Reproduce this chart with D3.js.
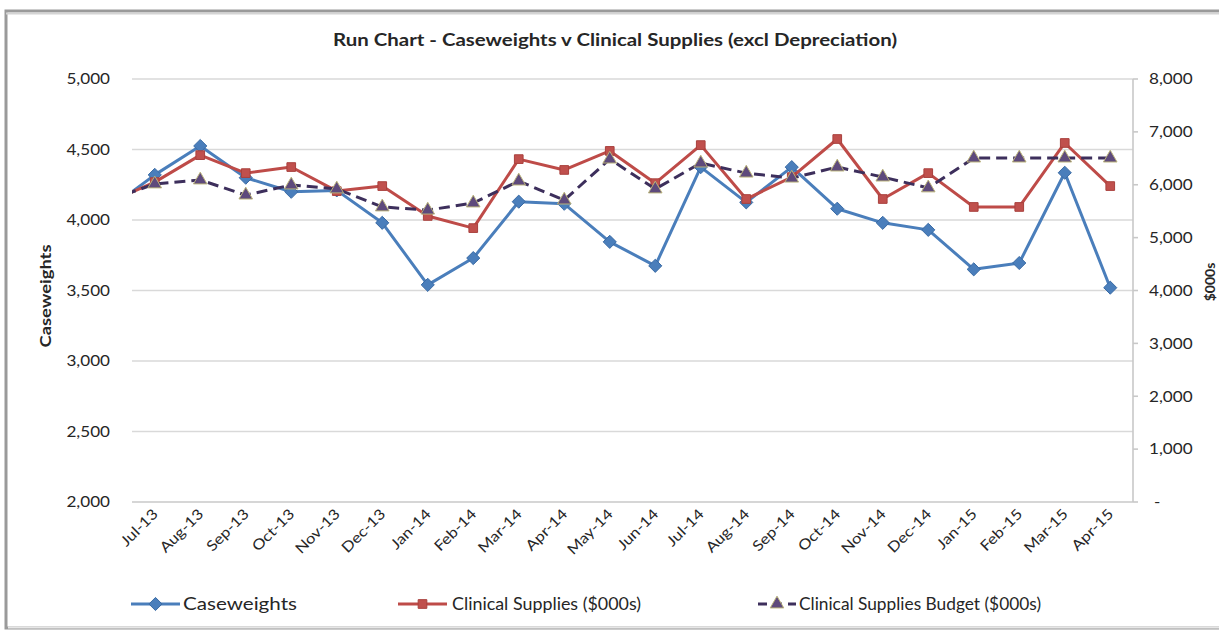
<!DOCTYPE html>
<html>
<head>
<meta charset="utf-8">
<script src="https://cdn.jsdelivr.net/npm/d3@7"></script>
<style>
  html, body { margin: 0; padding: 0; background: #ffffff; }
  svg { display: block; }
  text { font-family: Lato, "Open Sans", "Liberation Sans", sans-serif; fill: #262626; }
</style>
</head>
<body>
<script>
// Monthly run chart: caseweights (left axis) against clinical supplies spend and budget (right axis, $000s)
const months = ["Jul-13","Aug-13","Sep-13","Oct-13","Nov-13","Dec-13","Jan-14","Feb-14","Mar-14","Apr-14","May-14",
                "Jun-14","Jul-14","Aug-14","Sep-14","Oct-14","Nov-14","Dec-14","Jan-15","Feb-15","Mar-15","Apr-15"];
const caseweights = [4320,4525,4300,4200,4210,3980,3540,3730,4130,4115,3845,3675,4375,4125,4375,4080,3980,3930,3650,3695,4335,3520];
const clinicalSupplies = [6050,6560,6220,6335,5880,5975,5410,5180,6485,6280,6640,6030,6750,5730,6145,6865,5730,6220,5580,5580,6790,5975];
const suppliesBudget = [6015,6090,5805,5995,5920,5580,5520,5655,6070,5710,6485,5920,6410,6220,6125,6335,6145,5940,6505,6505,6505,6505];
// Previous month (Jun-13), only its segment into Jul-13 shows inside the plot
const priorMonth = { caseweights: 4080, clinicalSupplies: 5670, suppliesBudget: 5710 };

const leftTicks = [2000,2500,3000,3500,4000,4500,5000];
const rightTicks = [0,1000,2000,3000,4000,5000,6000,7000,8000];

const seriesNames = ["Caseweights","Clinical Supplies ($000s)","Clinical Supplies Budget ($000s)"];
const title = "Run Chart - Caseweights v Clinical Supplies (excl Depreciation)";

const W = 1219, H = 630;
const plot = { left: 132, right: 1133, top: 79, bottom: 502 };

const svg = d3.select("body").append("svg").attr("width", W).attr("height", H);

// widen text along its own direction to give the narrow-face look of the chart's font
function widen(sel, k) {
  sel.each(function () {
    const len = this.getComputedTextLength();
    d3.select(this).attr("textLength", len * k).attr("lengthAdjust", "spacingAndGlyphs");
  });
  return sel;
}
function fitTo(sel, width) {
  return sel.attr("textLength", width).attr("lengthAdjust", "spacingAndGlyphs");
}

// chart frame (its right edge runs past the visible area)
svg.append("rect").attr("x", 6).attr("y", 11).attr("width", W + 20).attr("height", H - 13)
  .attr("fill", "none").attr("stroke", "#9a9a9a").attr("stroke-width", 3);
svg.append("line").attr("x1", 6).attr("x2", W).attr("y1", 13.5).attr("y2", 13.5)
  .attr("stroke", "#d4d4d4").attr("stroke-width", 2);
svg.append("line").attr("x1", 8).attr("x2", W).attr("y1", H - 2.5).attr("y2", H - 2.5)
  .attr("stroke", "#e6e6e6").attr("stroke-width", 2);

const x = d3.scaleBand().domain(months).range([plot.left, plot.right]).paddingInner(0).paddingOuter(0);
const cx = d => x(d) + x.bandwidth() / 2;
const yL = d3.scaleLinear().domain([2000, 5000]).range([plot.bottom, plot.top]);
const yR = d3.scaleLinear().domain([0, 8000]).range([plot.bottom, plot.top]);

// gridlines from the left axis
svg.append("g").selectAll("line").data(leftTicks.filter(t => t > 2000)).join("line")
  .attr("x1", plot.left).attr("x2", plot.right)
  .attr("y1", d => yL(d)).attr("y2", d => yL(d))
  .attr("stroke", "#d9d9d9").attr("stroke-width", 1.6);

// left axis labels
const fmt = d3.format(",");
widen(svg.append("g").selectAll("text").data(leftTicks).join("text")
  .attr("x", 110).attr("y", d => yL(d)).attr("dy", "0.35em")
  .attr("text-anchor", "end").attr("font-size", 15).text(d => fmt(d)), 1.14);

// bottom axis line
svg.append("line").attr("x1", plot.left).attr("x2", plot.right)
  .attr("y1", plot.bottom).attr("y2", plot.bottom)
  .attr("stroke", "#c8c8c8").attr("stroke-width", 1.6);

// right axis line, ticks and labels
const rAxis = svg.append("g");
rAxis.append("line").attr("x1", plot.right).attr("x2", plot.right)
  .attr("y1", plot.top).attr("y2", plot.bottom).attr("stroke", "#c8c8c8").attr("stroke-width", 1.6);
rAxis.selectAll("line.tk").data(rightTicks).join("line").attr("class", "tk")
  .attr("x1", plot.right).attr("x2", plot.right + 5)
  .attr("y1", d => yR(d)).attr("y2", d => yR(d))
  .attr("stroke", "#c8c8c8").attr("stroke-width", 1.6);
widen(rAxis.selectAll("text").data(rightTicks).join("text")
  .attr("x", d => d === 0 ? 1154 : 1149).attr("y", d => yR(d)).attr("dy", "0.35em")
  .attr("font-size", 15).text(d => d === 0 ? "-" : fmt(d)), 1.14);

// x axis labels, rotated
widen(svg.append("g").selectAll("text").data(months).join("text")
  .attr("transform", d => `translate(${cx(d) + 4},${plot.bottom + 13}) rotate(-45)`)
  .attr("text-anchor", "end").attr("font-size", 14.5).text(d => d), 1.15);

// axis titles
fitTo(svg.append("text").attr("transform", `translate(51,296) rotate(-90)`)
  .attr("text-anchor", "middle").attr("font-size", 15.5).attr("font-weight", "bold").text("Caseweights"), 103);
svg.append("text").attr("transform", `translate(1215,282) rotate(-90)`)
  .attr("text-anchor", "middle").attr("font-size", 14).attr("font-weight", "bold").text("$000s");

// title
fitTo(svg.append("text").attr("x", 615).attr("y", 46).attr("text-anchor", "middle")
  .attr("font-size", 16.5).attr("font-weight", "bold").text(title), 564);

// series
const clipId = "plot-clip";
svg.append("clipPath").attr("id", clipId).append("rect")
  .attr("x", plot.left).attr("y", 0).attr("width", plot.right - plot.left).attr("height", H);

const priorX = plot.left - x.bandwidth() / 2;
const series = [
  { name: seriesNames[0], values: caseweights, prior: priorMonth.caseweights, y: yL, color: "#4A7EBB", dash: null, marker: "diamond" },
  { name: seriesNames[1], values: clinicalSupplies, prior: priorMonth.clinicalSupplies, y: yR, color: "#BE4B48", dash: null, marker: "square" },
  { name: seriesNames[2], values: suppliesBudget, prior: priorMonth.suppliesBudget, y: yR, color: "#3D2F5C", dash: "11,6", marker: "triangle" }
];

const markerPath = {
  diamond: d3.symbol().type(d3.symbolDiamond2).size(110),
  square: d3.symbol().type(d3.symbolSquare).size(75),
  triangle: d3.symbol().type(d3.symbolTriangle).size(80)
};
const markerStyle = {
  diamond: { fill: "#4A7EBB", stroke: "#3A6BA5" },
  square: { fill: "#C0504D", stroke: "#A9403D" },
  triangle: { fill: "#5E4A7C", stroke: "#B9B27A" }
};

const line = d3.line().x(d => d[0]).y(d => d[1]);
series.forEach(s => {
  const g = svg.append("g");
  const pts = [[priorX, s.y(s.prior)]].concat(s.values.map((v, i) => [cx(months[i]), s.y(v)]));
  g.append("path").attr("d", line(pts)).attr("clip-path", `url(#${clipId})`)
    .attr("fill", "none").attr("stroke", s.color).attr("stroke-width", 3)
    .attr("stroke-dasharray", s.dash).attr("stroke-linejoin", "round");
  g.selectAll("path.mk").data(s.values).join("path").attr("class", "mk")
    .attr("transform", (v, i) => `translate(${cx(months[i])},${s.y(v)})`)
    .attr("d", markerPath[s.marker])
    .attr("fill", markerStyle[s.marker].fill).attr("stroke", markerStyle[s.marker].stroke).attr("stroke-width", 1);
});

// legend
const legendY = 604;
const legendItems = [
  { s: series[0], x0: 131, tx: 183, w: 114 },
  { s: series[1], x0: 398, tx: 452, w: 189 },
  { s: series[2], x0: 758, tx: 799, w: 242 }
];
legendItems.forEach(({ s, x0, tx, w }, k) => {
  const g = svg.append("g");
  const x1 = k === 2 ? x0 + 38 : x0 + 49;
  g.append("line").attr("x1", x0).attr("x2", x1).attr("y1", legendY).attr("y2", legendY)
    .attr("stroke", s.color).attr("stroke-width", 3).attr("stroke-dasharray", k === 2 ? "9,6" : null);
  g.append("path").attr("transform", `translate(${(x0 + x1) / 2},${legendY})`)
    .attr("d", markerPath[s.marker])
    .attr("fill", markerStyle[s.marker].fill).attr("stroke", markerStyle[s.marker].stroke).attr("stroke-width", 1);
  fitTo(g.append("text").attr("x", tx).attr("y", legendY).attr("dy", "0.35em")
    .attr("font-size", 16.5).text(s.name), w);
});
</script>
</body>
</html>
